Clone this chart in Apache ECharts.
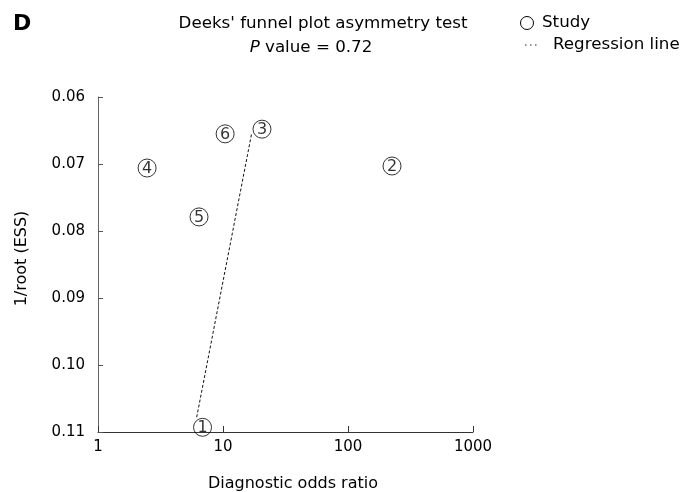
<!DOCTYPE html>
<html>
<head>
<meta charset="utf-8">
<script src="https://cdn.jsdelivr.net/npm/echarts@6/dist/echarts.min.js"></script>
<style>
  html, body { margin: 0; padding: 0; background: #fff; }
  #chartFunnel { width: 680px; height: 492px; }
</style>
</head>
<body>
<div id="chartFunnel"></div>
<script>
// estudios (números dentro de los círculos)
const studyIds = ["1", "2", "3", "4", "5", "6"];
const studyDOR = [6.86, 225, 20.5, 2.47, 6.43, 10.4];
const studyInvRootESS = [0.1093, 0.0703, 0.0648, 0.0706, 0.0779, 0.0655];

// línea de regresión (extremos)
const regDOR = [6.16, 16.97];
const regInvRootESS = [0.1078, 0.0654];

const xTicks = [1, 10, 100, 1000];
const yTicks = [0.06, 0.07, 0.08, 0.09, 0.10, 0.11];

const FONT = "DejaVu Sans";

var chartFunnel = echarts.init(document.getElementById('chartFunnel'));

const points = studyDOR.map((x, i) => ({ name: studyIds[i], value: [x, studyInvRootESS[i]] }));
const regLine = regDOR.map((x, i) => [x, regInvRootESS[i]]);

chartFunnel.setOption({
    animation: false,
    textStyle: { fontFamily: FONT },

    grid: {
        left: 98,
        right: 207,
        top: 97,
        bottom: 60,
        containLabel: false,
        outerBoundsMode: "none"
    },

    xAxis: {
        type: "log",
        logBase: 10,
        min: xTicks[0],
        max: xTicks[xTicks.length - 1],
        name: "Diagnostic odds ratio",
        nameLocation: "middle",
        nameGap: 44,
        nameTextStyle: { color: "#000", fontSize: 16, fontFamily: FONT, padding: [0, 0, 0, 15] },
        splitLine: { show: false },
        axisLine: { lineStyle: { color: "#333", width: 1 } },
        axisTick: { inside: true, length: 6, lineStyle: { color: "#333" } },
        axisLabel: {
            color: "#000",
            fontSize: 15,
            fontFamily: FONT,
            margin: 8,
            formatter: v => String(Math.round(v))
        }
    },

    yAxis: {
        type: "value",
        inverse: true,
        min: yTicks[0],
        max: yTicks[yTicks.length - 1],
        interval: 0.01,
        name: "1/root (ESS)",
        nameLocation: "middle",
        nameGap: 68,
        nameRotate: 90,
        nameTextStyle: { color: "#000", fontSize: 16, fontFamily: FONT, padding: [0, 0, 0, 12] },
        splitLine: { show: false },
        axisLine: { show: true, lineStyle: { color: "#666", width: 1 } },
        axisTick: { show: true, inside: true, length: 5, lineStyle: { color: "#555" } },
        axisLabel: {
            color: "#000",
            fontSize: 15,
            fontFamily: FONT,
            margin: 13,
            formatter: v => v.toFixed(2)
        }
    },

    series: [
        {
            name: "Regression line",
            type: "line",
            data: regLine,
            symbol: "none",
            lineStyle: { color: "#111", width: 1, type: [3, 2] },
            z: 2
        },
        {
            name: "Study",
            type: "scatter",
            data: points,
            symbol: "circle",
            symbolSize: 18,
            itemStyle: { color: "rgba(255,255,255,0)", borderColor: "#000", borderWidth: 1 },
            label: {
                show: true,
                position: "inside",
                offset: [0, 1],
                formatter: "{b}",
                color: "#000",
                fontSize: 16,
                fontFamily: FONT
            },
            z: 3
        }
    ],

    graphic: [
        { type: "text", left: 13, top: 13, style: { text: "D", font: "bold 22px " + FONT, fill: "#000" } },
        { type: "text", x: 323, y: 24, style: { text: "Deeks' funnel plot asymmetry test", font: "16.7px " + FONT, fill: "#000", align: "center", verticalAlign: "middle" } },
        {
            type: "text", x: 311, y: 48,
            style: {
                text: "{i|P} value = 0.72",
                align: "center", verticalAlign: "middle",
                fill: "#000",
                font: "16.7px " + FONT,
                rich: { i: { fontStyle: "italic", fontSize: 16.7, fontFamily: FONT, fill: "#000" } }
            }
        },
        // leyenda
        { type: "circle", shape: { cx: 527, cy: 23, r: 6.5 }, style: { fill: "#fff", stroke: "#000", lineWidth: 1 } },
        { type: "text", x: 542, y: 23, style: { text: "Study", font: "16.7px " + FONT, fill: "#000", verticalAlign: "middle" } },
        { type: "line", shape: { x1: 525, y1: 45, x2: 538, y2: 45 }, style: { stroke: "#222", lineWidth: 1.2, lineDash: [1.5, 3.5] } },
        { type: "text", x: 553, y: 45, style: { text: "Regression line", font: "16.7px " + FONT, fill: "#000", verticalAlign: "middle" } }
    ]
});

window.addEventListener("resize", () => {
    if (chartFunnel) chartFunnel.resize();
});
</script>
</body>
</html>
